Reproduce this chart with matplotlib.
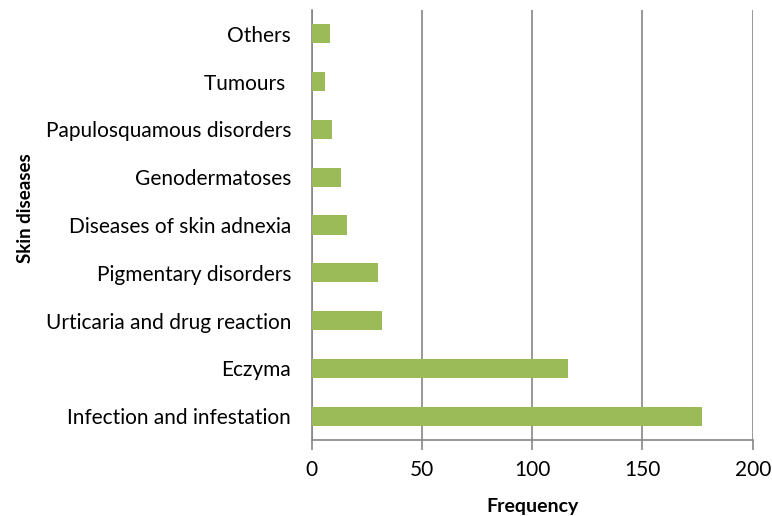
import matplotlib.pyplot as plt
import numpy as np

# categories bottom to top
categories = ['Infection and infestation', 'Eczyma', 'Urticaria and drug reaction',
              'Pigmentary disorders', 'Diseases of skin adnexia', 'Genodermatoses',
              'Papulosquamous disorders', 'Tumours ', 'Others']
frequency = [177, 116, 32, 30, 16, 13, 9, 6, 8]
xticks = [0, 50, 100, 150, 200]

plt.rcParams['font.family'] = ['Lato', 'DejaVu Sans']

fig = plt.figure(figsize=(7.72, 5.16), dpi=100)
ax = fig.add_axes([0.404, 0.147, 0.571, 0.834])

y = np.arange(len(categories))
ax.barh(y, frequency, height=0.4, color='#9BBB59', zorder=3)

ax.set_xlim(0, 200)
ax.set_ylim(-0.5, len(categories) - 0.5)
ax.set_xticks(xticks)
ax.set_yticks(y)
ax.set_yticklabels(categories)
ax.xaxis.grid(True, color='#868686', linewidth=1.2, zorder=0)

for side in ['top', 'right']:
    ax.spines[side].set_visible(False)
ax.spines['left'].set_color('#868686')
ax.spines['bottom'].set_color('#868686')
ax.spines['left'].set_linewidth(1.2)
ax.spines['bottom'].set_linewidth(1.2)

ax.tick_params(axis='y', length=0, labelsize=15, pad=15)
ax.tick_params(axis='x', length=7, color='#868686', width=1.2, labelsize=15, pad=7)

ax.set_xlabel('Frequency', fontsize=14, fontweight='bold', labelpad=13)
ax.set_ylabel('Skin diseases', fontsize=13.5, fontweight='bold')
ax.yaxis.set_label_coords(-0.63, 0.54)

fig.savefig('out.png', dpi=100)
